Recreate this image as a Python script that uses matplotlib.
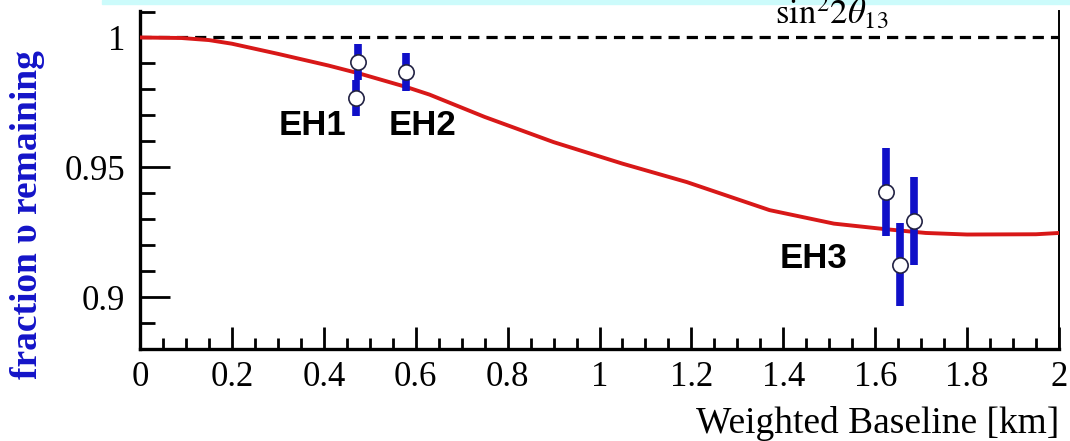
import matplotlib.pyplot as plt
import matplotlib.patches as patches
from matplotlib.ticker import MultipleLocator

plt.rcParams['mathtext.fontset'] = 'stix'

# expected survival curve
curve_x = [0, 0.09, 0.15, 0.2, 0.3, 0.41, 0.48, 0.58, 0.63, 0.75, 0.9, 1.05,
           1.19, 1.22, 1.37, 1.51, 1.62, 1.71, 1.8, 1.95, 2.0]
curve_y = [1.0, 0.9998, 0.9990, 0.9976, 0.9937, 0.9892, 0.986, 0.9809, 0.978,
           0.9694, 0.9597, 0.9514, 0.9443, 0.9425, 0.9335, 0.9283,
           0.9262, 0.9247, 0.9241, 0.9242, 0.9247]

# measured points (one per detector)
det_x = [0.475, 0.470, 0.578, 1.623, 1.654, 1.684]
det_y = [0.9905, 0.9768, 0.9866, 0.9405, 0.9124, 0.9293]
det_err = [0.007, 0.007, 0.0073, 0.017, 0.016, 0.017]

hall_names = ['EH1', 'EH2', 'EH3']
hall_x = [0.375, 0.614, 1.466]
hall_y = [0.9662, 0.9662, 0.915]

xtick_vals = [0, 0.2, 0.4, 0.6, 0.8, 1, 1.2, 1.4, 1.6, 1.8, 2]
xtick_labels = ['0', '0.2', '0.4', '0.6', '0.8', '1', '1.2', '1.4', '1.6', '1.8', '2']
ytick_vals = [0.9, 0.95, 1.0]
ytick_labels = ['0.9', '0.95', '1']

fig = plt.figure(figsize=(10.7, 4.41), dpi=100)
ax = fig.add_axes([140 / 1070, 1 - 349 / 441, 919 / 1070, 338 / 441])

# thin cyan strip along the top edge
fig.patches.append(patches.Rectangle((102 / 1070, 1 - 4 / 441), 1, 4 / 441,
                                     transform=fig.transFigure, color='#ccfbfb', zorder=0))

ax.axhline(1.0, color='black', lw=2.3, ls=(0, (3.5, 2.2)), zorder=2)
ax.plot(curve_x, curve_y, color='#d81818', lw=2.8, zorder=3)
ax.errorbar(det_x, det_y, yerr=det_err, fmt='o', ms=11, mfc='white', mec='#222244',
            mew=1.2, ecolor='#1010c8', elinewidth=5.5, capsize=0, zorder=4)

for name, hx, hy in zip(hall_names, hall_x, hall_y):
    ax.text(hx, hy, name, ha='center', va='center', fontsize=25, fontweight='bold',
            family='Liberation Sans')

ax.set_xlim(0, 2)
ax.set_ylim(0.88, 1.0102)
ax.set_xticks(xtick_vals)
ax.set_xticklabels(xtick_labels)
ax.set_yticks(ytick_vals)
ax.set_yticklabels(ytick_labels)
ax.xaxis.set_minor_locator(MultipleLocator(0.05))
ax.yaxis.set_minor_locator(MultipleLocator(0.01))

ax.tick_params(axis='both', which='both', direction='in', width=2.0,
               labelsize=25, labelfontfamily='Liberation Serif')
ax.tick_params(axis='x', which='major', length=16, pad=9)
ax.tick_params(axis='x', which='minor', length=8)
ax.tick_params(axis='y', which='major', length=21.5, pad=10.5)
ax.tick_params(axis='y', which='minor', length=11)
ax.tick_params(top=False, right=False)

ax.spines['top'].set_visible(False)
ax.spines['left'].set_linewidth(2.4)
ax.spines['bottom'].set_linewidth(2.4)
ax.spines['right'].set_linewidth(1.4)

ax.set_xlabel('Weighted Baseline [km]', fontsize=27, family='Liberation Serif',
              loc='right', labelpad=8)

fig.text(28 / 1070, 1 - 215 / 441, 'fraction υ remaining', rotation=90, ha='center',
         va='center', fontsize=27, fontweight='bold', color='#1414c8',
         family='Liberation Serif')

fig.text(775 / 1070, 1 - 24 / 441, r'$\mathrm{sin}^2 2\theta_{13}$', ha='left',
         va='baseline', fontsize=25)

fig.savefig('out.png', dpi=100)
